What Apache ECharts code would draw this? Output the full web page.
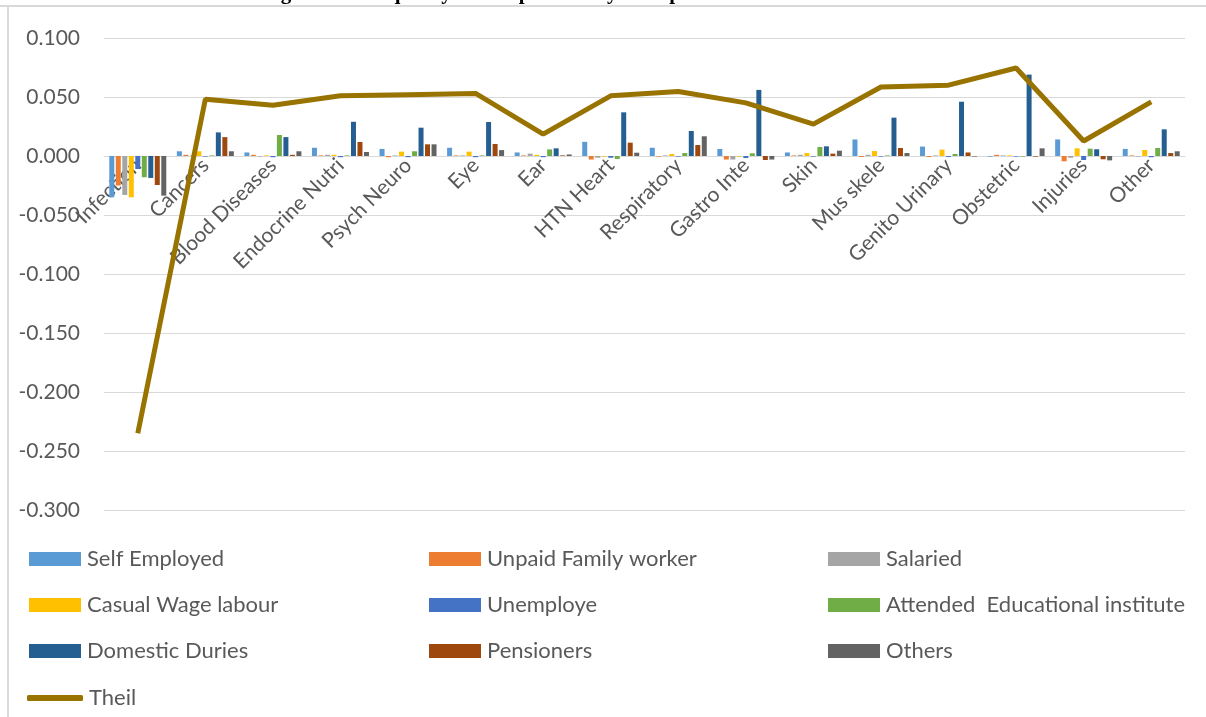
<!DOCTYPE html>
<html>
<head>
<meta charset="utf-8">
<script src="https://cdn.jsdelivr.net/npm/echarts@6/dist/echarts.min.js"></script>
<style>html,body{margin:0;padding:0;background:#fff;}#c{width:1206px;height:717px;}</style>
</head>
<body>
<div id="c"></div>
<script>
const categories = ['Infection','Cancers','Blood Diseases','Endocrine Nutri','Psych Neuro','Eye','Ear','HTN Heart','Respiratory','Gastro Inte','Skin','Mus skele','Genito Urinary','Obstetric','Injuries','Other'];
const selfEmployed = [-0.035, 0.004, 0.003, 0.007, 0.006, 0.007, 0.003, 0.012, 0.007, 0.006, 0.003, 0.014, 0.008, -0.0005, 0.014, 0.006];
const unpaidFamily = [-0.025, 0.001, 0.001, 0.0005, -0.001, 0.0005, 0.0005, -0.003, -0.0005, -0.003, 0.0005, -0.0008, -0.0008, 0.001, -0.0045, 0.0005];
const salaried = [-0.033, 0.0005, -0.0005, 0.001, 0.0005, 0.0005, 0.002, -0.0015, 0.0005, -0.003, 0.001, 0.001, 0.0005, 0.0005, -0.0015, -0.0005];
const casualWage = [-0.035, 0.004, 0.0005, 0.001, 0.0037, 0.0037, 0.001, -0.0005, 0.0017, -0.0005, 0.0025, 0.0042, 0.0054, 0.0005, 0.0065, 0.0051];
const unemploye = [-0.011, -0.0005, -0.001, -0.001, -0.001, -0.001, -0.001, -0.0015, -0.0005, -0.0017, -0.0005, -0.0005, -0.0008, -0.0005, -0.0034, -0.001];
const attended = [-0.018, 0.0005, 0.0178, 0.0005, 0.004, 0.0005, 0.0056, -0.0025, 0.0025, 0.0023, 0.0076, 0.0005, 0.0017, -0.0005, 0.0062, 0.0068];
const domestic = [-0.0186, 0.020, 0.016, 0.029, 0.024, 0.0288, 0.0065, 0.037, 0.0212, 0.056, 0.0082, 0.0325, 0.046, 0.069, 0.0057, 0.0226];
const pensioners = [-0.0246, 0.016, 0.001, 0.0119, 0.0099, 0.0102, 0.0005, 0.0113, 0.0093, -0.0034, 0.002, 0.0068, 0.003, -0.0005, -0.0028, 0.0025];
const othersOcc = [-0.0336, 0.004, 0.004, 0.0034, 0.0099, 0.005, 0.0013, 0.0028, 0.0167, -0.003, 0.0045, 0.0025, -0.0005, 0.0065, -0.0037, 0.004];
const theil = [-0.235, 0.048, 0.043, 0.051, 0.052, 0.053, 0.0186, 0.051, 0.0547, 0.045, 0.027, 0.0585, 0.060, 0.0746, 0.0127, 0.0458];

const seriesNames = ['Self Employed','Unpaid Family worker','Salaried','Casual Wage labour','Unemploye','Attended  Educational institute','Domestic Duries','Pensioners','Others'];
const seriesData = [selfEmployed, unpaidFamily, salaried, casualWage, unemploye, attended, domestic, pensioners, othersOcc];
const colors = ['#5B9BD5','#ED7D31','#A5A5A5','#FFC000','#4472C4','#70AD47','#255E91','#9E480E','#636363'];

const FONT = 'Lato';
const series = seriesNames.map((n, i) => ({
  name: n, type: 'bar', data: seriesData[i], barWidth: 5, barGap: '30%',
  itemStyle: { color: colors[i] }
}));
series.push({
  name: 'Theil', type: 'line', data: theil, symbol: 'none', showSymbol: false,
  lineStyle: { color: '#997300', width: 5 }, itemStyle: { color: '#997300' }
});

const colX = [29, 429, 828];
const rowCenter = [559, 605, 651, 698];
const allNames = seriesNames.concat(['Theil']);
const legends = allNames.map((n, i) => {
  const isLine = n === 'Theil';
  const lg = {
    data: [{ name: n, icon: isLine ? 'roundRect' : 'rect' }],
    left: colX[i % 3] - (isLine ? 2 : 0), top: rowCenter[Math.floor(i / 3)] - 12,
    itemWidth: isLine ? 56 : 52, itemHeight: isLine ? 6 : 14, itemGap: 0,
    textStyle: { fontFamily: FONT, fontSize: 22, color: '#595959', lineHeight: 24, padding: [0, 0, 0, 1] },
    padding: 0, selectedMode: false
  };
  if (isLine) { lg.itemStyle = { color: '#997300', borderWidth: 0 }; lg.lineStyle = { width: 0 }; }
  return lg;
});

const chart = echarts.init(document.getElementById('c'));
chart.setOption({
  animation: false,
  backgroundColor: '#fff',
  color: colors.concat(['#997300']),
  grid: { left: 104, right: 21, top: 38, bottom: 207 },
  legend: legends,
  xAxis: {
    type: 'category', data: categories, position: 'bottom', offset: -354,
    axisLine: { show: true, onZero: false, lineStyle: { color: '#D9D9D9', width: 1 } },
    axisTick: { show: false },
    axisLabel: { rotate: 45, fontFamily: FONT, fontSize: 21, color: '#595959', margin: 6, interval: 0 }
  },
  yAxis: {
    type: 'value', min: -0.3, max: 0.1, interval: 0.05,
    axisLabel: { formatter: v => v.toFixed(3), fontFamily: FONT, fontSize: 21, color: '#595959', margin: 24 },
    splitLine: { lineStyle: { color: '#D9D9D9', width: 1 } },
    axisLine: { show: false }, axisTick: { show: false }
  },
  graphic: [
    { type: 'text', x: 262, y: 4, style: { text: 'Figure 10: Inequality Decomposition by Occupation in India', font: 'bold 21px "Liberation Serif"', fill: '#000', verticalAlign: 'bottom' } },
    { type: 'rect', shape: { x: 0, y: 5, width: 1206, height: 2 }, style: { fill: '#D9D9D9' } },
    { type: 'line', shape: { x1: 8, y1: 5, x2: 8, y2: 717 }, style: { stroke: '#D9D9D9', lineWidth: 2 } }
  ],
  series: series
});
</script>
</body>
</html>
